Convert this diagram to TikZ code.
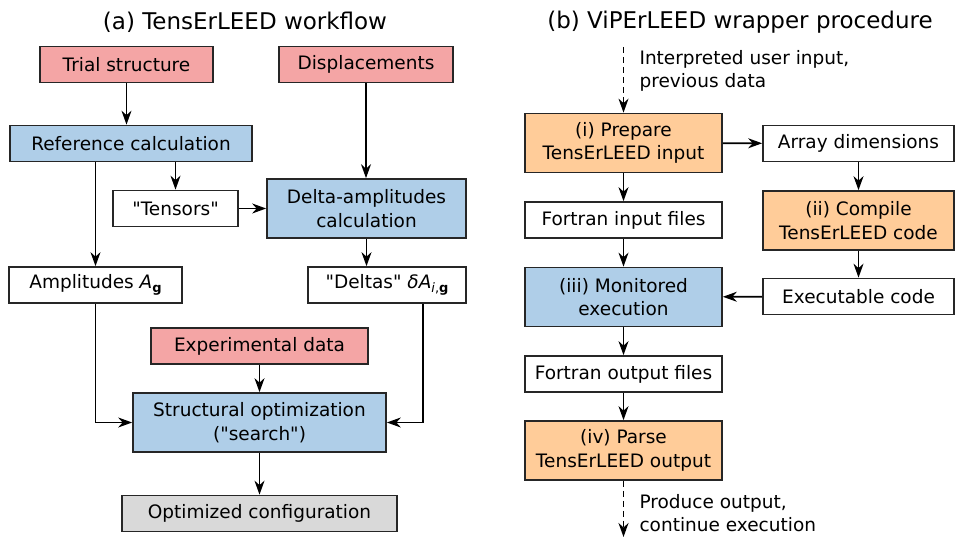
\documentclass[tikz,border=0pt]{standalone}
\usepackage{fontspec}
\setmainfont{DejaVu Sans}
\usetikzlibrary{arrows.meta}
\definecolor{inpink}{RGB}{244,165,165}
\definecolor{calcblue}{RGB}{175,206,232}
\definecolor{wraporange}{RGB}{255,204,153}
\definecolor{resgray}{RGB}{217,217,217}
\newcommand{\lowsub}[1]{\raisebox{-0.35ex}{\fontsize{13}{13}\selectfont #1}}

\begin{document}
\begin{tikzpicture}[x=1pt, y=-1pt,
    box/.style={draw=black!85, line width=1.7pt, inner sep=0pt, align=center,
        font=\fontsize{18.5}{23.5}\selectfont},
    onebox/.style={box, minimum height=36pt},
    twobox/.style={box, minimum height=59pt},
    conn/.style={line width=1.6pt, -{Stealth[length=14pt, width=10pt, inset=4.5pt]}},
    title/.style={font=\fontsize{23}{27}\selectfont},
    note/.style={anchor=west, align=left, font=\fontsize{18.5}{23}\selectfont}]
    \useasboundingbox (0,0) rectangle (955,537);

    % draw titles
    \node[title] (ta) at (245,22) {(a) TensErLEED workflow};
    \node[title] (tb) at (740,22) {(b) ViPErLEED wrapper procedure};

    % draw nodes of the TensErLEED workflow
    \node[onebox, fill=inpink, minimum width=173pt] (trial) at (126.5,64.5) {Trial structure};
    \node[onebox, fill=inpink, minimum width=174pt] (disp) at (366,64.5) {Displacements};
    \node[onebox, fill=calcblue, minimum width=242pt] (ref) at (131,143.5) {Reference calculation};
    \node[onebox, fill=white, minimum width=125pt] (tens) at (175.5,208.5) {\textquotedbl Tensors\textquotedbl};
    \node[twobox, fill=calcblue, minimum width=199pt] (delta) at (366.5,208.5) {Delta-amplitudes\\calculation};
    \node[onebox, fill=white, minimum width=173pt] (amp) at (95.5,285) {Amplitudes \textit{A}\lowsub{\textbf{g}}};
    \node[onebox, fill=white, minimum width=158pt] (dlts) at (387,285) {\textquotedbl Deltas\textquotedbl{} \textit{δA}\lowsub{\textit{i},\textbf{g}}};
    \node[onebox, fill=inpink, minimum width=217pt] (exp) at (259.5,346) {Experimental data};
    \node[twobox, fill=calcblue, minimum width=253pt] (opt) at (259.5,422.5) {Structural optimization\\(\textquotedbl search\textquotedbl)};
    \node[onebox, fill=resgray, minimum width=275pt] (optc) at (259.5,513.5) {Optimized configuration};

    % draw connectors of the TensErLEED workflow
    \draw[conn] (trial) -- (trial |- ref.north);
    \draw[conn] (disp) -- (disp |- delta.north);
    \draw[conn] (amp |- ref.south) -- (amp);
    \draw[conn] (tens |- ref.south) -- (tens);
    \draw[conn] (tens) -- (delta);
    \draw[conn] (delta) -- (delta |- dlts.north);
    \draw[conn] (amp) |- (opt);
    \draw[conn] ([xshift=36pt]dlts.south) |- (opt);
    \draw[conn] (exp) -- (opt);
    \draw[conn] (opt) -- (optc);

    % draw nodes of the ViPErLEED wrapper
    \node[twobox, fill=wraporange, minimum width=197pt] (prep) at (623.5,143) {(i) Prepare\\TensErLEED input};
    \node[onebox, fill=white, minimum width=191pt] (arr) at (858.5,143.5) {Array dimensions};
    \node[onebox, fill=white, minimum width=197pt] (fin) at (623.5,220) {Fortran input files};
    \node[twobox, fill=wraporange, minimum width=191pt] (comp) at (858.5,220.5) {(ii) Compile\\TensErLEED code};
    \node[twobox, fill=calcblue, minimum width=197pt] (mon) at (623.5,297) {(iii) Monitored\\execution};
    \node[onebox, fill=white, minimum width=191pt] (exe) at (858.5,296.5) {Executable code};
    \node[onebox, fill=white, minimum width=197pt] (fout) at (623.5,374) {Fortran output files};
    \node[twobox, fill=wraporange, minimum width=197pt] (parse) at (623.5,450.5) {(iv) Parse\\TensErLEED output};

    \coordinate (in) at (623.5,47);
    \coordinate (out) at (623.5,537);
    \node[note] (innote) at (636,70.5) {Interpreted user input,\\previous data};
    \node[note] (outnote) at (636,513.5) {Produce output,\\continue execution};

    % draw connectors of the ViPErLEED wrapper
    \draw[conn, dash pattern=on 6pt off 4pt] (in) -- (prep);
    \draw[conn] (prep) -- (arr);
    \draw[conn] (arr) -- (comp);
    \draw[conn] (comp) -- (exe);
    \draw[conn] (exe) -- (mon);
    \draw[conn] (prep) -- (fin);
    \draw[conn] (fin) -- (mon);
    \draw[conn] (mon) -- (fout);
    \draw[conn] (fout) -- (parse);
    \draw[conn, dash pattern=on 6pt off 4pt] (parse) -- (out);
\end{tikzpicture}
\end{document}
